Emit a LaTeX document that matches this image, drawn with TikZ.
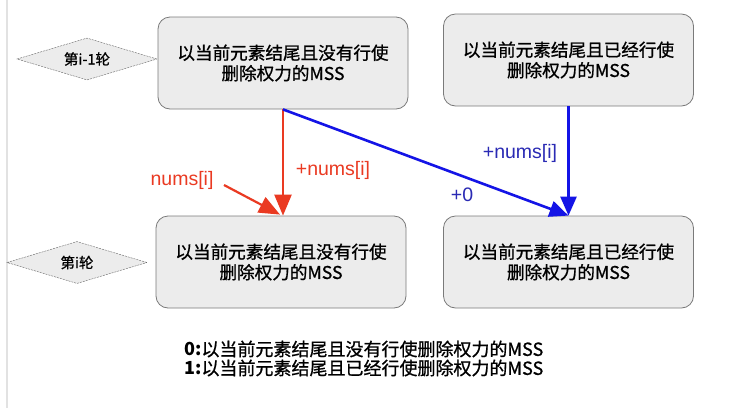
\documentclass[tikz,border=0pt]{standalone}
\usepackage{fontspec}
\setmainfont{Noto Sans CJK SC}
\newfontfamily\medfont{Noto Sans CJK SC}[FakeBold=0.9]
\newfontfamily\labfont{Liberation Sans}
\usetikzlibrary{shapes.geometric,arrows.meta,calc}
\definecolor{boxfill}{HTML}{ECECEC}
\definecolor{boxdraw}{HTML}{7A7A7A}
\definecolor{arrred}{HTML}{EA3A22}
\definecolor{arrblue}{HTML}{1414E6}
\definecolor{labblue}{HTML}{2A2AB4}
\definecolor{edgegray}{HTML}{E2E2E2}
\tikzset{
  statebox/.style={draw=boxdraw, fill=boxfill, line width=0.8pt, rounded corners=12pt,
    minimum width=250pt, minimum height=92pt, inner sep=0pt, align=center,
    font=\medfont\fontsize{17.6}{20.5}\selectfont},
  roundtag/.style={draw=gray!80!black, dashed, dash pattern=on 2pt off 1pt, fill=boxfill, shape=diamond,
    aspect=3.33, minimum width=140pt, minimum height=42pt, inner sep=0pt,
    font=\medfont\fontsize{14.5}{16}\selectfont},
  redarrow/.style={draw=arrred, line width=2.4pt, -{Triangle[length=21pt,width=17pt]}},
  bluearrow/.style={draw=arrblue, line width=2.6pt, -{Triangle[length=19pt,width=16pt]}},
  redlab/.style={text=arrred, font=\labfont\fontsize{19.5}{22}\selectfont},
  bluelab/.style={text=labblue, font=\labfont\fontsize{19.5}{22}\selectfont},
}
\begin{document}
\begin{tikzpicture}[x=1pt,y=-1pt]
\useasboundingbox[fill=white] (0,0) rectangle (729,408);
\draw[edgegray, line width=1.2pt] (7,0) -- (7,408);

\node[statebox] (A) at (283,63) {以当前元素结尾且没有行使\\删除权力的MSS};
\node[statebox] (B) at (568.5,60) {以当前元素结尾且已经行使\\删除权力的MSS};
\node[statebox] (C) at (281,262) {以当前元素结尾且没有行使\\删除权力的MSS};
\node[statebox] (D) at (568.5,262) {以当前元素结尾且已经行使\\删除权力的MSS};

\node[roundtag] (T1) at (87,59) {第i-1轮};
\node[roundtag] (T2) at (77,262.5) {第i轮};

\draw[redarrow] (A.south) -- (A.south |- C.north);
\draw[bluearrow] (A.south) -- (D.north);
\draw[bluearrow] (B.south) -- (D.north);

\coordinate (rs) at (224,185);
\draw[redarrow, line width=2.2pt] (rs) -- ($(A.south |- C.north)+(-3,-1)$);

\node[redlab] (l1) at (182,180) {nums[i]};
\node[redlab] (l2) at (333,170) {+nums[i]};
\node[bluelab] (l3) at (520,153) {+nums[i]};
\node[bluelab] (l4) at (462,195) {+0};

\node[anchor=west, align=left, inner sep=0pt, font=\medfont\fontsize{18}{19}\selectfont] (leg) at (184,358.5)
  {{\rmfamily\bfseries 0:}以当前元素结尾且没有行使删除权力的MSS\\{\rmfamily\bfseries 1:}以当前元素结尾且已经行使删除权力的MSS};
\end{tikzpicture}
\end{document}
